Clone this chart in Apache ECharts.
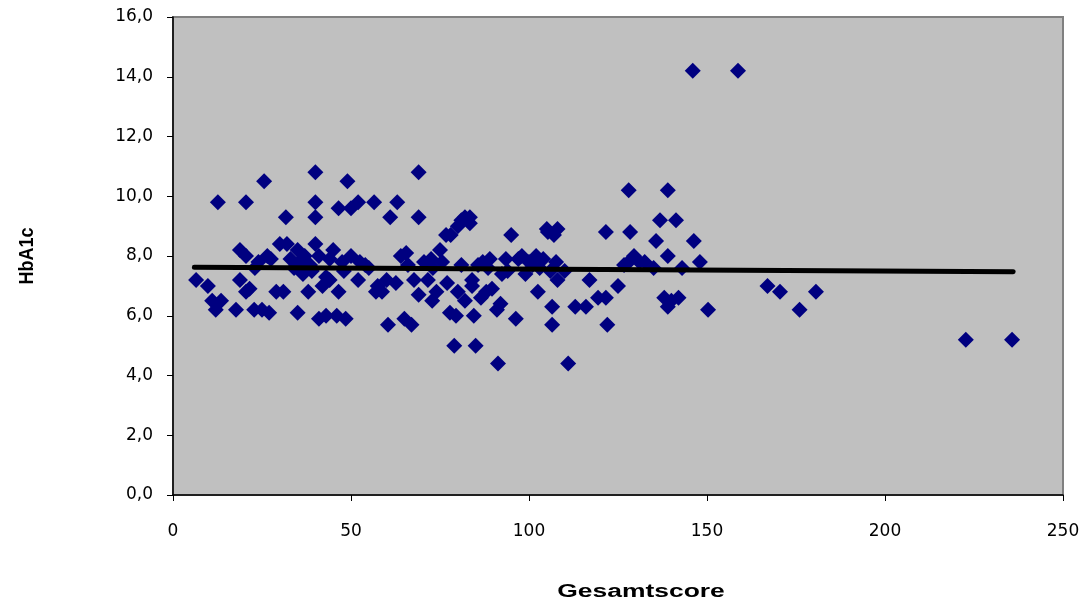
<!DOCTYPE html>
<html>
<head>
<meta charset="utf-8">
<script src="https://cdn.jsdelivr.net/npm/echarts@6/dist/echarts.min.js"></script>
<style>html,body{margin:0;padding:0;background:#fff}#c{width:1089px;height:604px}</style>
</head>
<body>
<div id="c"></div>
<script>
// Gesamtscore (x) values
const scoreX = [
  6.5, 9.8, 11, 12, 13.5, 12.6, 17.7, 18.8, 18.8, 20.5, 20.5, 21.5, 20.5, 22.8, 24, 25, 25.6, 26.5, 27, 29,
  30, 31, 31.7, 32, 33, 35, 35, 35.5, 36.5, 38, 40, 40, 40, 40, 41, 41, 42, 43, 44, 45,
  46, 46.5, 46.5, 47.5, 48.5, 49, 50, 50, 52, 52, 52.5, 54, 56.5, 57, 58.7, 60.4, 61, 60, 63, 62.6,
  64, 65, 65.5, 67, 67.7, 69, 69, 69, 70.5, 71.6, 72.5, 72.8, 74, 75.6, 75, 76.7, 77.8, 78, 79, 79.5,
  80, 80, 81, 81, 82, 82, 83.4, 83.4, 84, 84.5, 85, 85.7, 86.5, 87, 88, 89, 89.6, 91, 91.3, 92,
  92.4, 93.5, 95, 96.3, 97, 98, 100, 101, 102, 102.5, 103, 105, 105.3, 106, 106.5, 106.5, 107, 107.6, 108, 108,
  111, 113, 116, 117, 119.4, 121.6, 121.6, 122, 125, 126.7, 128, 128, 128.4, 129.5, 131, 132.5, 135, 135.7, 136.8, 138,
  139, 139, 139, 140, 141.3, 142, 143, 146, 146.3, 148, 150.3, 158.7, 167, 170.5, 176, 180.6, 222.7, 235.7,
  23, 27.5, 34, 37, 39, 44, 48, 55, 66, 73, 77, 84, 88.5, 94, 99, 104, 110, 38.5, 43, 57.5
];
// HbA1c (y) values
const hba1c = [
  7.2, 7.0, 6.5, 6.2, 6.5, 9.8, 6.2, 8.2, 7.2, 9.8, 6.8, 6.9, 8.0, 6.2, 7.8, 6.2, 10.5, 8.0, 6.1, 6.8,
  8.4, 6.8, 9.3, 8.4, 7.9, 6.1, 8.2, 7.8, 7.4, 6.8, 10.8, 9.8, 9.3, 8.4, 5.9, 8.0, 7.0, 6.0, 7.2, 8.2,
  6.0, 9.6, 6.8, 7.8, 5.9, 10.5, 9.6, 8.0, 9.8, 7.2, 7.8, 7.7, 9.8, 6.8, 6.8, 5.7, 9.3, 7.2, 9.8, 7.1,
  8.0, 5.9, 8.1, 5.7, 7.2, 9.3, 10.8, 6.7, 7.8, 7.2, 7.9, 6.5, 6.8, 7.8, 8.2, 8.7, 6.1, 8.7, 5.0, 6.0,
  6.8, 9.0, 9.2, 7.7, 9.3, 6.5, 9.1, 9.3, 7.2, 6.0, 5.0, 7.7, 6.6, 7.8, 6.8, 7.9, 6.9, 6.2, 4.4, 6.4,
  7.4, 7.9, 8.7, 5.9, 7.9, 8.0, 7.8, 7.7, 8.0, 6.8, 7.6, 8.9, 8.8, 7.5, 6.3, 5.7, 8.7, 7.8, 8.9, 7.2,
  4.4, 6.3, 6.3, 7.2, 6.6, 8.8, 6.6, 5.7, 7.0, 7.7, 10.2, 7.8, 8.8, 8.0, 7.8, 7.8, 7.6, 8.5, 9.2, 6.6,
  10.2, 8.0, 6.3, 6.5, 9.2, 6.6, 7.6, 14.2, 8.5, 7.8, 6.2, 14.2, 7.0, 6.8, 6.2, 6.8, 5.2, 5.2,
  7.6, 7.9, 7.6, 8.0, 7.5, 7.9, 7.5, 7.6, 7.7, 7.6, 7.1, 7.0, 7.6, 7.5, 7.4, 7.9, 7.5, 7.7, 7.3, 7.0
];
// Linear trend line end points
const trendX = [6, 236];
const trendY = [7.62, 7.47];
// Axis tick settings
const xTicks = [0, 50, 100, 150, 200, 250];
const yTicks = [0, 2, 4, 6, 8, 10, 12, 14, 16];

const points = scoreX.map((x, i) => [x, hba1c[i]]);
const trend = trendX.map((x, i) => [x, trendY[i]]);

const chart = echarts.init(document.getElementById('c'), null, {renderer: 'canvas'});
chart.setOption({
  animation: false,
  backgroundColor: '#ffffff',
  grid: {
    left: 173, right: 26, top: 17, bottom: 109,
    show: true, backgroundColor: '#c0c0c0', borderColor: '#808080', borderWidth: 2
  },
  xAxis: {
    type: 'value', min: xTicks[0], max: xTicks[xTicks.length - 1], interval: 50,
    axisLine: {show: true, onZero: false, lineStyle: {color: '#000', width: 1.5}},
    axisTick: {show: true, length: 6, lineStyle: {color: '#000'}},
    splitLine: {show: false},
    axisLabel: {color: '#000', fontFamily: 'DejaVu Sans', fontSize: 17, margin: 28}
  },
  yAxis: {
    type: 'value', min: yTicks[0], max: yTicks[yTicks.length - 1], interval: 2,
    axisLine: {show: true, onZero: false, lineStyle: {color: '#000', width: 1.5}},
    axisTick: {show: true, length: 6, lineStyle: {color: '#000'}},
    splitLine: {show: false},
    axisLabel: {
      color: '#000', fontFamily: 'DejaVu Sans', fontSize: 17, margin: 20,
      formatter: v => v.toFixed(1).replace('.', ',')
    }
  },
  graphic: [
    {type: 'text', x: 641, y: 592, scaleX: 1.47, scaleY: 1,
     style: {text: 'Gesamtscore', font: 'bold 18px "Liberation Sans", Arial, sans-serif', fill: '#000', align: 'center', verticalAlign: 'middle'}},
    {type: 'text', rotation: Math.PI / 2, x: 27, y: 256, scaleY: 1.15,
     style: {text: 'HbA1c', font: 'bold 18px "Liberation Sans", Arial, sans-serif', fill: '#000', align: 'center', verticalAlign: 'middle'}}
  ],
  series: [
    {
      type: 'scatter', data: points, symbol: 'diamond', symbolSize: 16,
      itemStyle: {color: '#000080', opacity: 1}, z: 2
    },
    {
      type: 'line', data: trend, symbol: 'none', z: 3,
      lineStyle: {color: '#000', width: 5, cap: 'round'}
    }
  ]
});
</script>
</body>
</html>
